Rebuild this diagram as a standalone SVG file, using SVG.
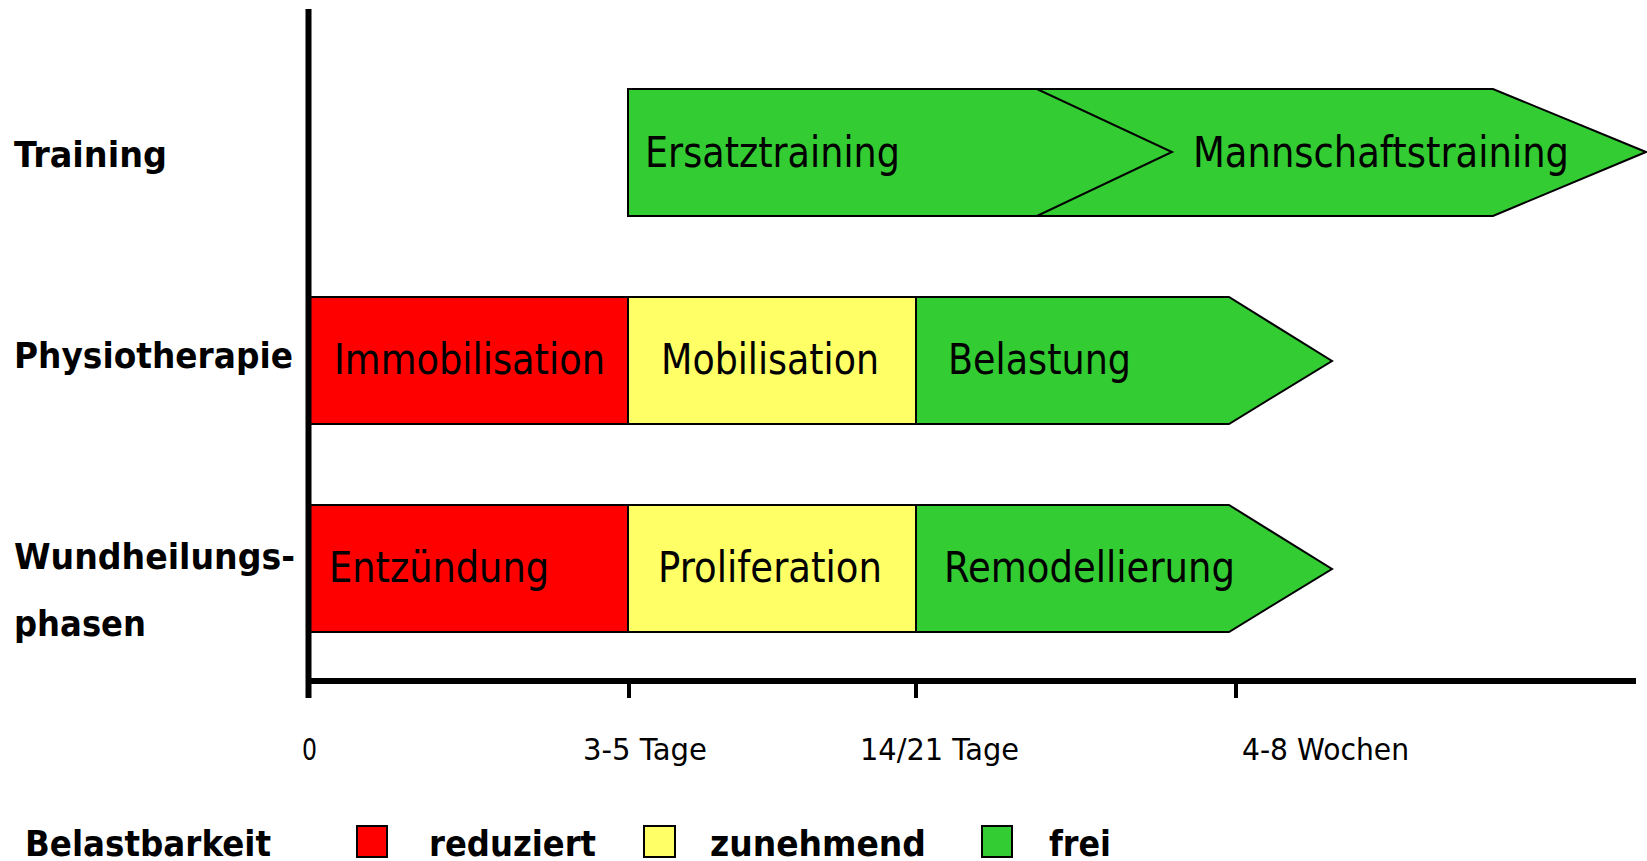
<svg xmlns="http://www.w3.org/2000/svg" width="1647" height="861" viewBox="0 0 1647 861">
<style>
.box{stroke:#000;stroke-width:2;stroke-linejoin:miter}
.red{fill:#FF0000}.yel{fill:#FFFF66}.grn{fill:#33CC33}
.t{font-family:"DejaVu Sans",sans-serif;font-size:42px;fill:#000}
.lbl{font-family:"DejaVu Sans",sans-serif;font-weight:bold;font-size:36px;fill:#000}
.ax{font-family:"DejaVu Sans",sans-serif;font-size:30px;fill:#000}
.axis{stroke:#000;stroke-width:6;fill:none}
.tick{stroke:#000;stroke-width:4;fill:none}
</style>
<rect width="1647" height="861" fill="#fff"/>
<g id="labels">
<text class="lbl" x="14" y="167" textLength="153" lengthAdjust="spacingAndGlyphs">Training</text>
<text class="lbl" x="14" y="368" textLength="279" lengthAdjust="spacingAndGlyphs">Physiotherapie</text>
<text class="lbl" x="14" y="569" textLength="281" lengthAdjust="spacingAndGlyphs">Wundheilungs-</text>
<text class="lbl" x="14" y="636" textLength="132" lengthAdjust="spacingAndGlyphs">phasen</text>
</g>
<g id="mannschaftstraining">
<polygon class="box grn" points="1012,89 1493,89 1646,152 1493,216 1012,216"/>
<text class="t" x="1193" y="167" textLength="376" lengthAdjust="spacingAndGlyphs">Mannschaftstraining</text>
</g>
<g id="ersatztraining">
<polygon class="box grn" points="628,89 1037,89 1172,152 1037,216 628,216"/>
<text class="t" x="645" y="167" textLength="255" lengthAdjust="spacingAndGlyphs">Ersatztraining</text>
</g>
<g id="immobilisation">
<rect class="box red" x="308" y="297" width="320" height="127"/>
<text class="t" x="334" y="374" textLength="271" lengthAdjust="spacingAndGlyphs">Immobilisation</text>
</g>
<g id="mobilisation">
<rect class="box yel" x="628" y="297" width="288" height="127"/>
<text class="t" x="661" y="374" textLength="218" lengthAdjust="spacingAndGlyphs">Mobilisation</text>
</g>
<g id="belastung">
<polygon class="box grn" points="916,297 1229,297 1332,361 1229,424 916,424"/>
<text class="t" x="948" y="374" textLength="183" lengthAdjust="spacingAndGlyphs">Belastung</text>
</g>
<g id="entzuendung">
<rect class="box red" x="308" y="505" width="320" height="127"/>
<text class="t" x="329" y="582" textLength="220" lengthAdjust="spacingAndGlyphs">Entzündung</text>
</g>
<g id="proliferation">
<rect class="box yel" x="628" y="505" width="288" height="127"/>
<text class="t" x="658" y="582" textLength="224" lengthAdjust="spacingAndGlyphs">Proliferation</text>
</g>
<g id="remodellierung">
<polygon class="box grn" points="916,505 1229,505 1332,569 1229,632 916,632"/>
<text class="t" x="944" y="582" textLength="291" lengthAdjust="spacingAndGlyphs">Remodellierung</text>
</g>
<g id="axes">
<line class="axis" x1="308.5" y1="9" x2="308.5" y2="698"/>
<line class="axis" x1="306" y1="681" x2="1636" y2="681"/>
<line class="tick" x1="629" y1="681" x2="629" y2="698"/>
<line class="tick" x1="916" y1="681" x2="916" y2="698"/>
<line class="tick" x1="1236" y1="681" x2="1236" y2="698"/>
<text class="ax" x="302" y="760" textLength="15" lengthAdjust="spacingAndGlyphs">0</text>
<text class="ax" x="583" y="760" textLength="124" lengthAdjust="spacingAndGlyphs">3-5 Tage</text>
<text class="ax" x="860" y="760" textLength="159" lengthAdjust="spacingAndGlyphs">14/21 Tage</text>
<text class="ax" x="1242" y="760" textLength="167" lengthAdjust="spacingAndGlyphs">4-8 Wochen</text>
</g>
<g id="legend">
<text class="lbl" x="25" y="856" textLength="246" lengthAdjust="spacingAndGlyphs">Belastbarkeit</text>
<rect class="box red" x="357" y="826" width="30" height="31"/>
<text class="lbl" x="429" y="856" textLength="167" lengthAdjust="spacingAndGlyphs">reduziert</text>
<rect class="box yel" x="644" y="826" width="31" height="31"/>
<text class="lbl" x="710" y="856" textLength="216" lengthAdjust="spacingAndGlyphs">zunehmend</text>
<rect class="box grn" x="982" y="826" width="30" height="31"/>
<text class="lbl" x="1049" y="856" textLength="62" lengthAdjust="spacingAndGlyphs">frei</text>
</g>
</svg>
